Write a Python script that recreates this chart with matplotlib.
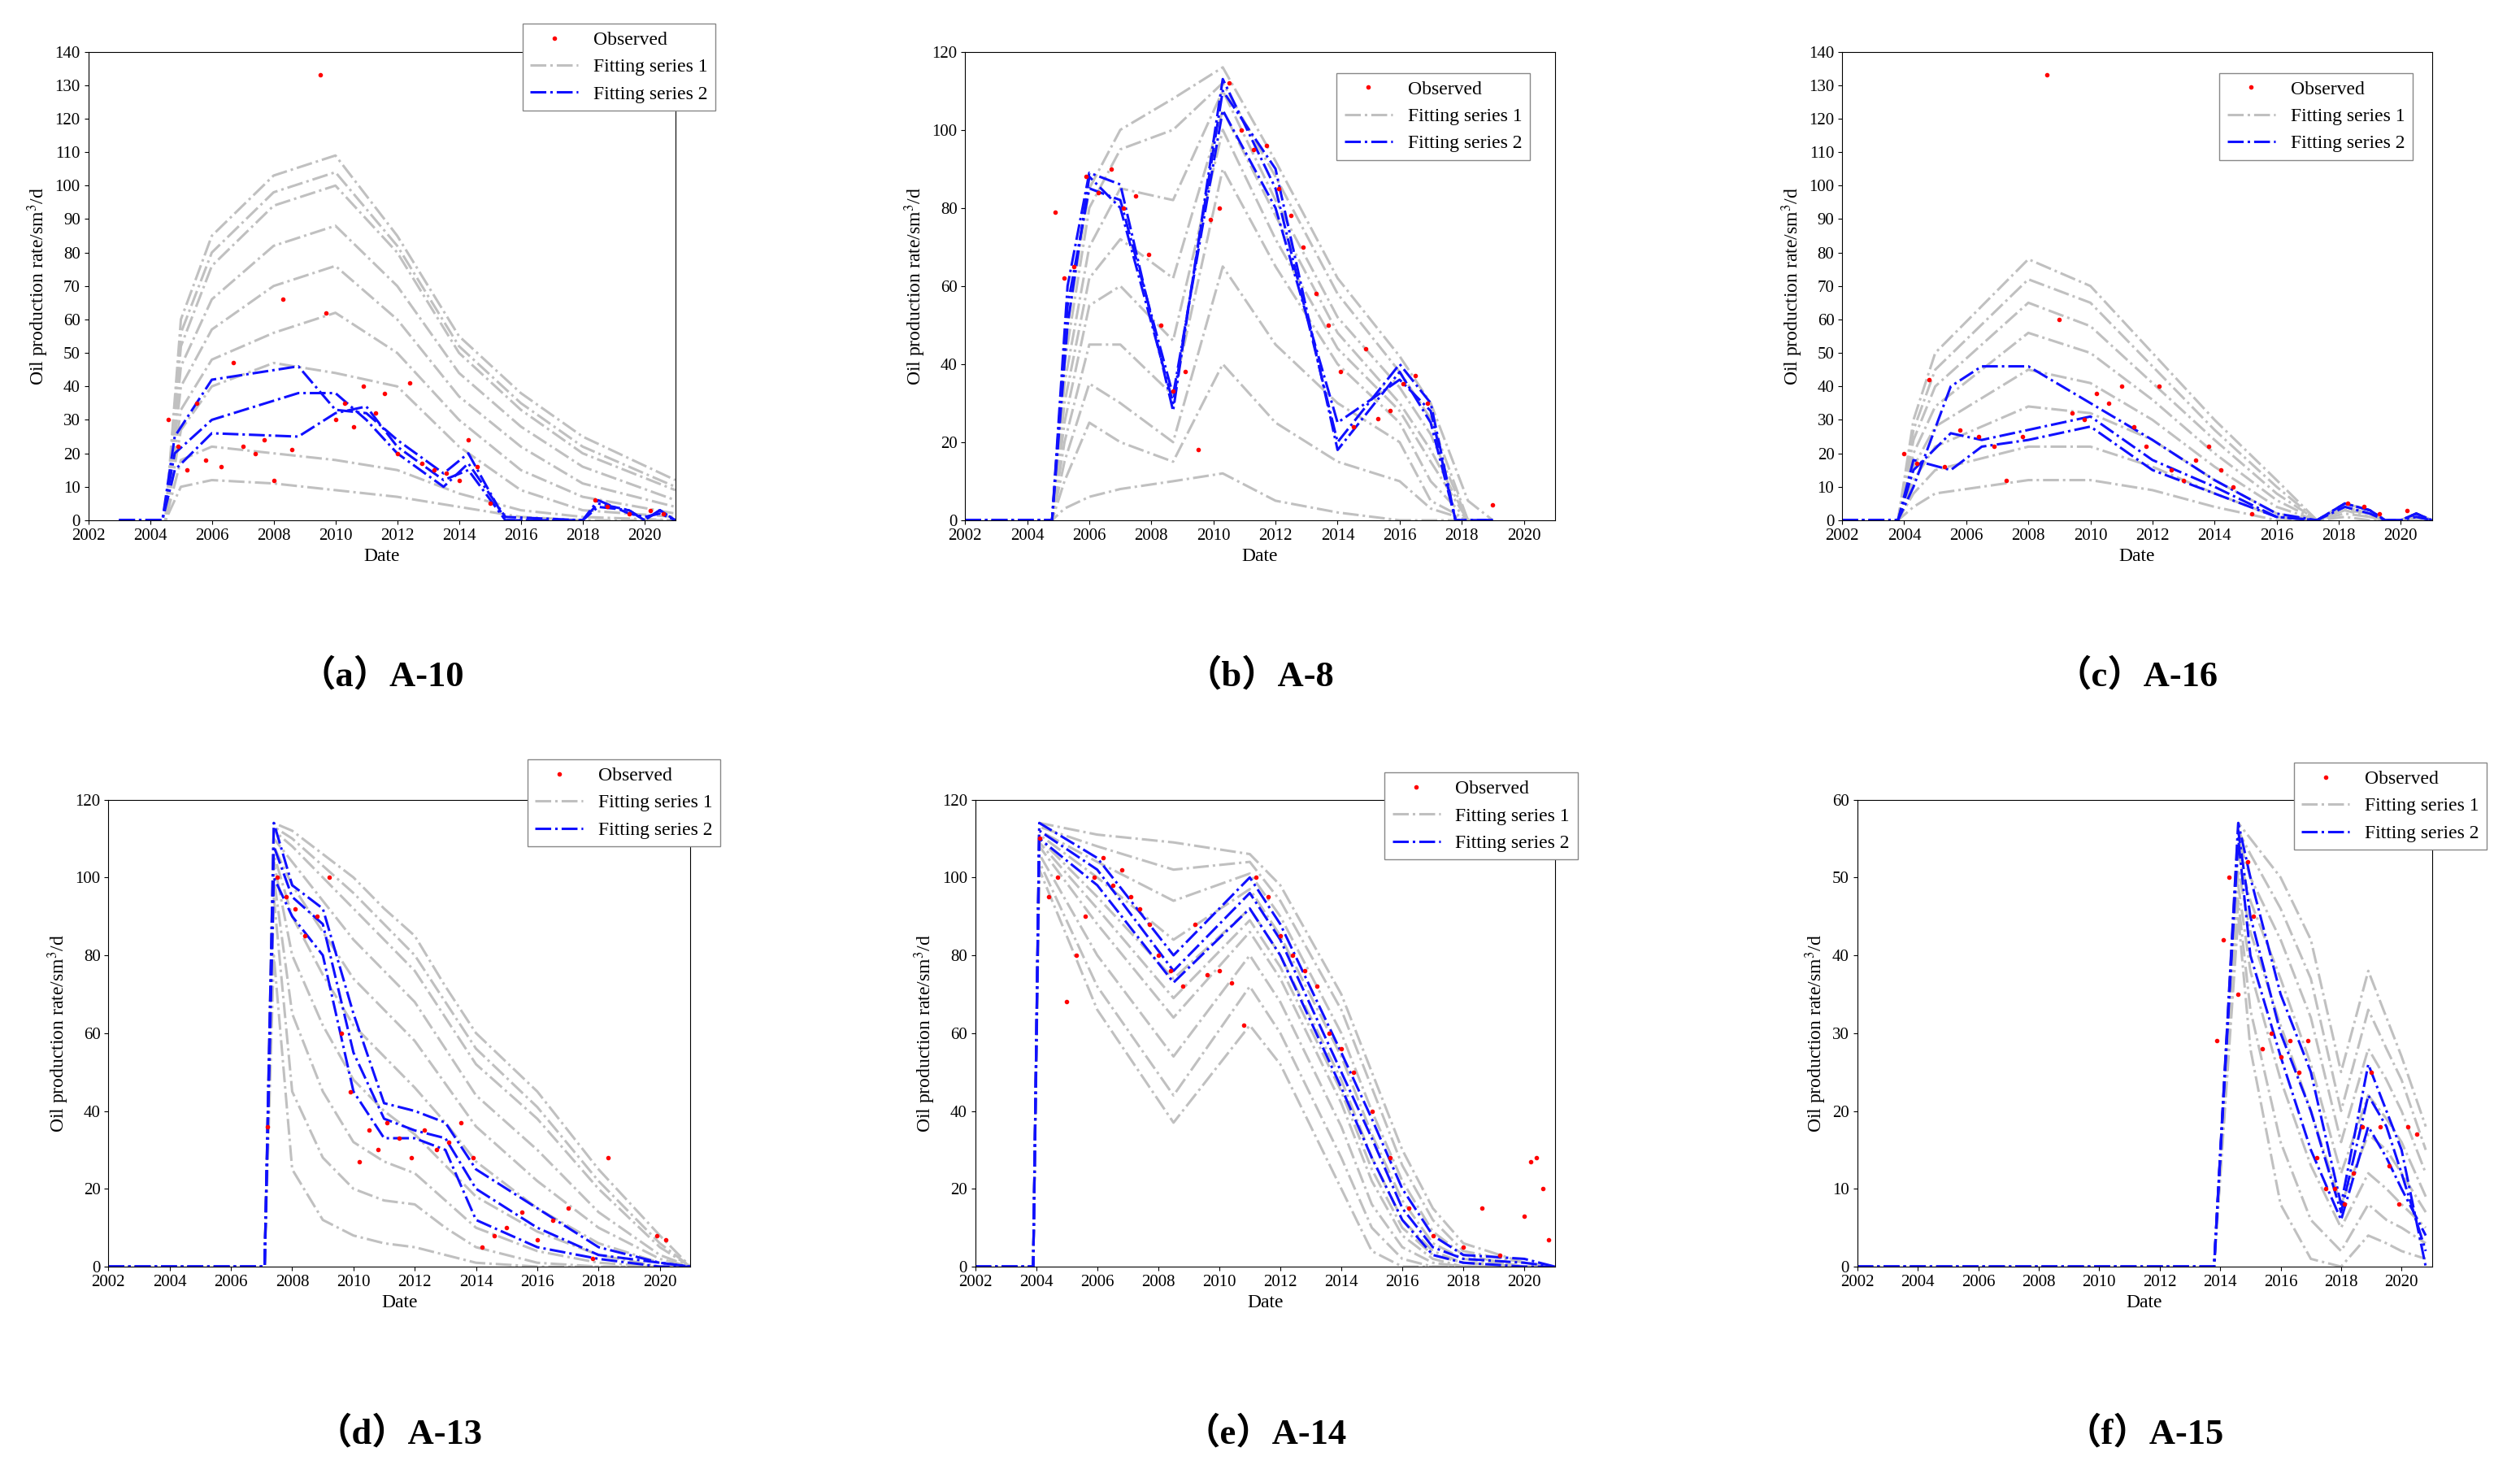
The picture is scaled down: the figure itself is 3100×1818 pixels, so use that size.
import matplotlib
matplotlib.use('Agg')
from matplotlib import pyplot as plt
from matplotlib.lines import Line2D

plt.rcParams['font.family'] = 'Liberation Serif'
plt.rcParams['mathtext.fontset'] = 'stix'

# ---------------- A-10 ----------------
a_gx = [2003, 2004.5, 2005, 2006, 2008, 2010, 2012, 2014, 2016, 2018, 2021]
a_gray = [
    [0, 0, 60, 85, 103, 109, 85, 55, 38, 25, 12],
    [0, 0, 56, 80, 98, 104, 82, 52, 35, 22, 10],
    [0, 0, 52, 76, 94, 100, 80, 50, 33, 20, 9],
    [0, 0, 46, 66, 82, 88, 70, 44, 28, 16, 6],
    [0, 0, 40, 57, 70, 76, 60, 37, 22, 11, 4],
    [0, 0, 33, 48, 56, 62, 50, 30, 15, 7, 2],
    [0, 0, 27, 40, 47, 44, 40, 22, 9, 3, 1],
    [0, 0, 18, 22, 20, 18, 15, 8, 3, 1, 0],
    [0, 0, 10, 12, 11, 9, 7, 4, 1, 0, 0],
]
a_bx = [2003, 2004.4, 2004.8, 2006, 2008.8, 2010, 2011, 2012, 2013.5, 2014.3, 2015.5, 2018, 2018.5, 2019.5, 2020, 2020.5, 2021]
a_blue = [
    [0, 0, 25, 42, 46, 33, 32, 24, 14, 20, 0, 0, 5, 3, 0, 3, 0],
    [0, 0, 20, 30, 38, 38, 30, 20, 10, 17, 1, 0, 6, 2, 1, 2, 0],
    [0, 0, 15, 26, 25, 32, 34, 22, 12, 15, 0, 0, 4, 3, 0, 3, 0],
]
a_ox = [2004.6, 2004.9, 2005.2, 2005.5, 2005.8, 2006.3, 2006.7, 2007.0, 2007.4, 2007.7, 2008.0, 2008.3, 2008.6, 2009.5, 2009.7, 2010.0, 2010.3, 2010.6, 2010.9, 2011.3, 2011.6, 2012.0, 2012.4, 2012.8, 2013.2, 2013.6, 2014.0, 2014.3, 2014.6, 2015.0, 2018.4, 2018.8, 2019.5, 2020.2, 2020.6]
a_oy = [30, 22, 15, 35, 18, 16, 47, 22, 20, 24, 12, 66, 21, 133, 62, 30, 35, 28, 40, 32, 38, 20, 41, 17, 15, 14, 12, 24, 16, 5, 6, 4, 2, 3, 2]

# ---------------- A-8 ----------------
b_gx = [2002, 2004.8, 2005.2, 2006, 2007, 2008.7, 2010.3, 2012, 2014, 2016, 2017, 2018.2, 2019]
b_gray = [
    [0, 0, 45, 85, 100, 108, 116, 92, 62, 42, 30, 5, 0],
    [0, 0, 40, 80, 95, 100, 112, 88, 58, 38, 26, 0, 0],
    [0, 0, 35, 70, 85, 82, 110, 82, 52, 34, 22, 0, 0],
    [0, 0, 30, 62, 72, 62, 105, 78, 48, 30, 18, 0, 0],
    [0, 0, 25, 55, 60, 46, 100, 72, 44, 28, 15, 0, 0],
    [0, 0, 20, 45, 45, 32, 90, 65, 40, 25, 10, 0, 0],
    [0, 0, 15, 35, 30, 20, 65, 45, 30, 20, 5, 0, 0],
    [0, 0, 10, 25, 20, 15, 40, 25, 15, 10, 3, 0, 0],
    [0, 0, 3, 6, 8, 10, 12, 5, 2, 0, 0, 0, 0],
]
b_bx = [2002, 2004.8, 2005.3, 2006, 2007, 2008.7, 2010.3, 2012, 2014, 2016, 2017, 2017.8, 2019]
b_blue = [
    [0, 0, 60, 89, 86, 28, 113, 85, 20, 40, 30, 0, 0],
    [0, 0, 55, 85, 82, 32, 105, 80, 25, 36, 28, 0, 0],
    [0, 0, 50, 88, 80, 30, 110, 90, 18, 38, 25, 0, 0],
]
b_ox = [2004.9, 2005.2, 2005.5, 2005.9, 2006.3, 2006.7, 2007.1, 2007.5, 2007.9, 2008.3, 2008.7, 2009.1, 2009.5, 2009.9, 2010.2, 2010.5, 2010.9, 2011.3, 2011.7, 2012.1, 2012.5, 2012.9, 2013.3, 2013.7, 2014.1, 2014.5, 2014.9, 2015.3, 2015.7, 2016.1, 2016.5, 2016.9, 2019.0]
b_oy = [79, 62, 65, 88, 84, 90, 80, 83, 68, 50, 33, 38, 18, 77, 80, 112, 100, 95, 96, 85, 78, 70, 58, 50, 38, 24, 44, 26, 28, 35, 37, 30, 4]

# ---------------- A-16 ----------------
c_gx = [2002, 2003.8, 2004.3, 2005, 2008, 2010, 2012, 2014, 2016, 2017.3, 2018.2, 2019, 2019.5, 2020, 2020.5, 2021]
c_gray = [
    [0, 0, 30, 50, 78, 70, 50, 30, 12, 0, 5, 3, 0, 0, 2, 0],
    [0, 0, 27, 45, 72, 65, 46, 27, 10, 0, 5, 3, 0, 0, 2, 0],
    [0, 0, 24, 40, 65, 58, 41, 24, 8, 0, 4, 2, 0, 0, 2, 0],
    [0, 0, 20, 34, 56, 50, 36, 20, 6, 0, 4, 2, 0, 0, 1, 0],
    [0, 0, 16, 28, 45, 41, 30, 16, 4, 0, 3, 2, 0, 0, 1, 0],
    [0, 0, 12, 22, 34, 32, 24, 12, 2, 0, 3, 1, 0, 0, 1, 0],
    [0, 0, 8, 15, 22, 22, 16, 8, 1, 0, 2, 1, 0, 0, 0, 0],
    [0, 0, 4, 8, 12, 12, 9, 4, 0, 0, 1, 0, 0, 0, 0, 0],
]
c_bx = [2002, 2003.8, 2004.3, 2005.5, 2006.5, 2008, 2010, 2012, 2014, 2016, 2017.3, 2018.2, 2019, 2019.5, 2020, 2020.5, 2021]
c_blue = [
    [0, 0, 10, 40, 46, 46, 35, 24, 12, 2, 0, 5, 3, 0, 0, 2, 0],
    [0, 0, 15, 26, 24, 27, 31, 18, 10, 1, 0, 4, 2, 0, 0, 1, 0],
    [0, 0, 18, 15, 22, 24, 28, 15, 8, 1, 0, 5, 3, 0, 0, 2, 0],
]
c_ox = [2004.0, 2004.4, 2004.8, 2005.3, 2005.8, 2006.4, 2006.9, 2007.3, 2007.8, 2008.6, 2009.0, 2009.4, 2009.8, 2010.2, 2010.6, 2011.0, 2011.4, 2011.8, 2012.2, 2012.6, 2013.0, 2013.4, 2013.8, 2014.2, 2014.6, 2015.2, 2018.3, 2018.8, 2019.3, 2020.2]
c_oy = [20, 17, 42, 16, 27, 25, 22, 12, 25, 133, 60, 32, 30, 38, 35, 40, 28, 22, 40, 15, 12, 18, 22, 15, 10, 2, 5, 4, 2, 3]

# ---------------- A-13 ----------------
d_gx = [2002, 2007.1, 2007.4, 2008, 2009, 2010, 2011, 2012, 2013, 2014, 2016, 2018, 2020, 2021]
d_gray = [
    [0, 0, 114, 112, 106, 100, 92, 85, 72, 60, 45, 25, 8, 0],
    [0, 0, 113, 110, 103, 96, 88, 80, 68, 56, 41, 22, 6, 0],
    [0, 0, 112, 108, 100, 92, 84, 76, 64, 52, 38, 20, 5, 0],
    [0, 0, 110, 104, 94, 84, 76, 68, 56, 44, 30, 14, 3, 0],
    [0, 0, 108, 98, 86, 74, 66, 58, 47, 36, 22, 10, 2, 0],
    [0, 0, 106, 90, 75, 62, 54, 46, 37, 27, 15, 6, 1, 0],
    [0, 0, 104, 80, 62, 48, 40, 34, 26, 18, 9, 3, 0, 0],
    [0, 0, 100, 65, 45, 32, 27, 24, 17, 10, 4, 1, 0, 0],
    [0, 0, 95, 45, 28, 20, 17, 16, 10, 5, 1, 0, 0, 0],
    [0, 0, 80, 25, 12, 8, 6, 5, 3, 1, 0, 0, 0, 0],
]
d_bx = d_gx
d_blue = [
    [0, 0, 114, 98, 92, 65, 42, 40, 37, 25, 15, 5, 1, 0],
    [0, 0, 108, 95, 88, 55, 38, 35, 33, 20, 10, 3, 1, 0],
    [0, 0, 100, 90, 80, 45, 33, 33, 30, 12, 5, 2, 0, 0],
]
d_ox = [2007.2, 2007.5, 2007.8, 2008.1, 2008.4, 2008.8, 2009.2, 2009.6, 2009.9, 2010.2, 2010.5, 2010.8, 2011.1, 2011.5, 2011.9, 2012.3, 2012.7, 2013.1, 2013.5, 2013.9, 2014.2, 2014.6, 2015.0, 2015.5, 2016.0, 2016.5, 2017.0, 2017.8, 2018.3, 2019.9, 2020.2]
d_oy = [36, 100, 95, 92, 85, 90, 100, 60, 45, 27, 35, 30, 37, 33, 28, 35, 30, 32, 37, 28, 5, 8, 10, 14, 7, 12, 15, 2, 28, 8, 7]

# ---------------- A-14 ----------------
e_gx = [2002, 2003.9, 2004.1, 2006, 2008.5, 2011, 2012, 2014, 2015, 2016, 2017, 2018, 2020, 2021]
e_gray = [
    [0, 0, 114, 111, 109, 106, 98, 70, 50, 30, 15, 6, 1, 0],
    [0, 0, 113, 108, 102, 104, 94, 66, 46, 26, 12, 4, 1, 0],
    [0, 0, 112, 104, 94, 101, 90, 60, 40, 22, 9, 3, 0, 0],
    [0, 0, 111, 100, 84, 97, 85, 54, 34, 17, 6, 2, 0, 0],
    [0, 0, 110, 95, 74, 92, 80, 48, 28, 12, 4, 1, 0, 0],
    [0, 0, 109, 92, 69, 89, 77, 45, 25, 10, 3, 1, 0, 0],
    [0, 0, 108, 88, 64, 86, 74, 42, 22, 8, 2, 0, 0, 0],
    [0, 0, 106, 80, 54, 80, 68, 36, 16, 5, 1, 0, 0, 0],
    [0, 0, 104, 72, 44, 72, 60, 28, 10, 2, 0, 0, 0, 0],
    [0, 0, 102, 66, 37, 62, 52, 20, 4, 0, 0, 0, 0, 0],
]
e_bx = e_gx
e_blue = [
    [0, 0, 114, 105, 80, 100, 88, 55, 38, 20, 8, 3, 2, 0],
    [0, 0, 112, 102, 76, 96, 84, 50, 33, 15, 5, 2, 1, 0],
    [0, 0, 110, 98, 73, 92, 80, 46, 28, 12, 3, 1, 0, 0],
]
e_ox = [2004.1, 2004.4, 2004.7, 2005.0, 2005.3, 2005.6, 2005.9, 2006.2, 2006.5, 2006.8, 2007.1, 2007.4, 2007.7, 2008.0, 2008.4, 2008.8, 2009.2, 2009.6, 2010.0, 2010.4, 2010.8, 2011.2, 2011.6, 2012.0, 2012.4, 2012.8, 2013.2, 2013.6, 2014.0, 2014.4, 2015.0, 2015.6, 2016.2, 2017.0, 2018.0, 2018.6, 2019.2, 2020.0, 2020.2, 2020.4, 2020.6, 2020.8]
e_oy = [110, 95, 100, 68, 80, 90, 100, 105, 98, 102, 95, 92, 88, 80, 76, 72, 88, 75, 76, 73, 62, 100, 95, 85, 80, 76, 72, 60, 56, 50, 40, 28, 15, 8, 5, 15, 3, 13, 27, 28, 20, 7]

# ---------------- A-15 ----------------
f_gx = [2002, 2013.8, 2014.6, 2015, 2016, 2017, 2018, 2018.9, 2019.5, 2020, 2020.8]
f_gray = [
    [0, 0, 57, 55, 50, 42, 25, 38, 32, 27, 18],
    [0, 0, 56, 53, 46, 37, 20, 33, 28, 24, 15],
    [0, 0, 55, 50, 42, 32, 16, 28, 24, 20, 12],
    [0, 0, 53, 47, 37, 26, 12, 22, 19, 16, 9],
    [0, 0, 51, 43, 31, 20, 8, 17, 15, 12, 7],
    [0, 0, 49, 38, 24, 13, 5, 12, 10, 8, 5],
    [0, 0, 47, 33, 16, 6, 2, 8, 6, 5, 3],
    [0, 0, 45, 28, 8, 1, 0, 4, 3, 2, 1],
]
f_bx = f_gx
f_blue = [
    [0, 0, 57, 50, 35, 25, 8, 26, 20, 15, 0],
    [0, 0, 56, 45, 30, 20, 7, 22, 18, 12, 2],
    [0, 0, 55, 40, 27, 15, 6, 18, 14, 10, 4],
]
f_ox = [2013.9, 2014.1, 2014.3, 2014.6, 2014.9, 2015.1, 2015.4, 2015.7, 2016.0, 2016.3, 2016.6, 2016.9, 2017.2, 2017.5, 2017.8, 2018.1, 2018.4, 2018.7, 2019.0, 2019.3, 2019.6, 2019.9, 2020.2, 2020.5]
f_oy = [29, 42, 50, 35, 52, 45, 28, 30, 27, 29, 25, 29, 14, 10, 10, 8, 12, 18, 25, 18, 13, 8, 18, 17]

panels = [
    ('（a）A-10', a_gx, a_gray, a_bx, a_blue, a_ox, a_oy, 140, 10, (0.74, 1.06)),
    ('（b）A-8', b_gx, b_gray, b_bx, b_blue, b_ox, b_oy, 120, 20, (0.63, 0.955)),
    ('（c）A-16', c_gx, c_gray, c_bx, c_blue, c_ox, c_oy, 140, 10, (0.64, 0.955)),
    ('（d）A-13', d_gx, d_gray, d_bx, d_blue, d_ox, d_oy, 120, 20, (0.72, 1.086)),
    ('（e）A-14', e_gx, e_gray, e_bx, e_blue, e_ox, e_oy, 120, 20, (0.706, 1.058)),
    ('（f）A-15', f_gx, f_gray, f_bx, f_blue, f_ox, f_oy, 60, 10, (0.76, 1.079)),
]

rects = [
    [0.035, 0.648, 0.233, 0.317],
    [0.383, 0.648, 0.234, 0.317],
    [0.731, 0.648, 0.234, 0.317],
    [0.043, 0.143, 0.231, 0.316],
    [0.387, 0.143, 0.230, 0.316],
    [0.737, 0.143, 0.228, 0.316],
]

fig = plt.figure(figsize=(31, 18.18), dpi=100)
for rect, (title, gx, gray, bx, blue, ox, oy, ymax, ystep, lpos) in zip(rects, panels):
    ax = fig.add_axes(rect)
    for g in gray:
        ax.plot(gx, g, color='#c0c0c0', ls='-.', lw=2.2)
    for b in blue:
        ax.plot(bx, b, color='#1010ff', ls='-.', lw=2.2)
    ax.plot(ox, oy, ls='none', marker='o', ms=3, color='red')
    ax.set_xlim(2002, 2021)
    ax.set_ylim(0, ymax)
    ax.set_xticks(range(2002, 2021, 2))
    ax.set_yticks(range(0, ymax + 1, ystep))
    ax.tick_params(labelsize=15, direction='out')
    ax.set_xlabel('Date', fontsize=17)
    ax.set_ylabel('Oil production rate/sm$^3$/d', fontsize=17)
    handles = [
        Line2D([], [], ls='none', marker='o', ms=3, color='red'),
        Line2D([], [], color='#c0c0c0', ls='-.', lw=2.2),
        Line2D([], [], color='#1010ff', ls='-.', lw=2.2),
    ]
    ax.legend(handles, ['Observed', 'Fitting series 1', 'Fitting series 2'],
              loc='upper left', bbox_to_anchor=lpos, fontsize=17,
              fancybox=False, edgecolor='#888888', framealpha=1,
              borderaxespad=0, handlelength=2.5)
    cy = 0.543 if rect[1] > 0.5 else 0.030
    fig.text(rect[0] + rect[2] / 2, cy, title, ha='center', va='center',
             fontsize=32, fontweight='bold',
             family=['Liberation Serif', 'Noto Sans CJK JP', 'Noto Sans CJK SC'])

fig.savefig('out.png', dpi=100)
